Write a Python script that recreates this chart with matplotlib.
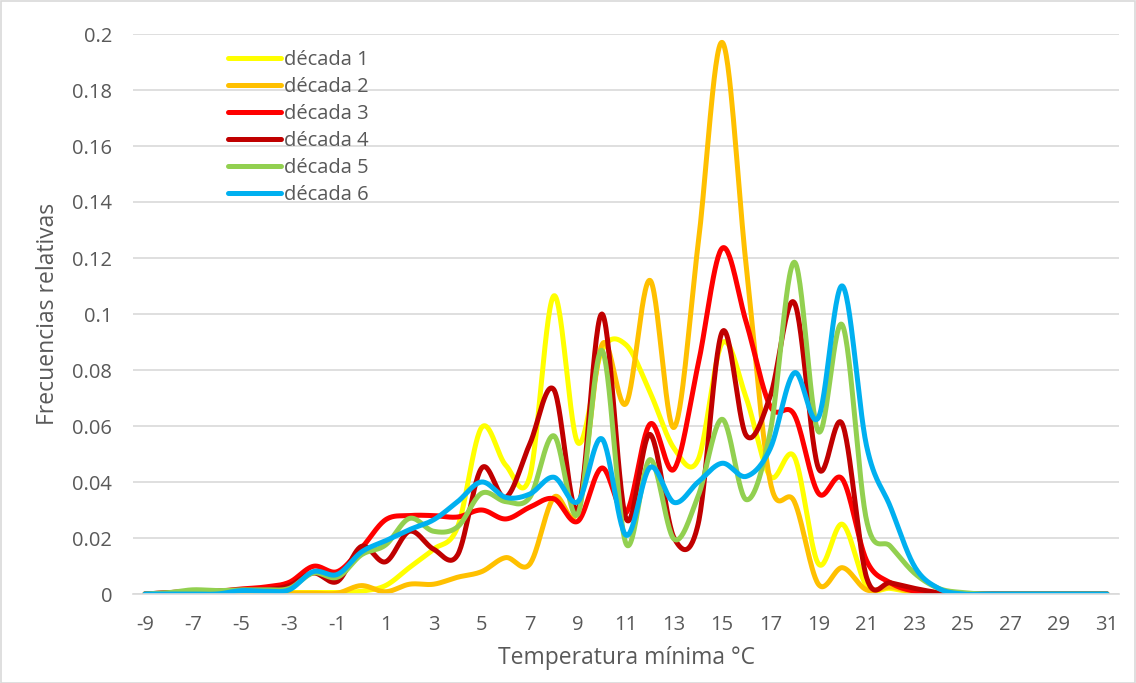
import numpy as np
import matplotlib
matplotlib.use("Agg")
import matplotlib.pyplot as plt
from matplotlib.patches import Rectangle

# ---- data -------------------------------------------------------------
temps = list(range(-9, 32))

decada1 = [0, 0, 0.0005, 0.0005, 0.0005, 0.0005, 0.0005, 0.0005, 0.0005, 0.001,
           0.003, 0.0095, 0.016, 0.024, 0.0595, 0.046, 0.042, 0.1065, 0.054, 0.087,
           0.089, 0.072, 0.052, 0.048, 0.0896, 0.070, 0.042, 0.049, 0.0108, 0.0249,
           0.003, 0.002, 0.0005, 0, 0, 0, 0, 0, 0, 0, 0]
decada2 = [0, 0, 0, 0, 0, 0, 0.0003, 0.0003, 0.0003, 0.003,
           0.0008, 0.0035, 0.0035, 0.006, 0.008, 0.013, 0.0107, 0.0345, 0.030, 0.089,
           0.068, 0.112, 0.0595, 0.125, 0.197, 0.117, 0.040, 0.033, 0.0035, 0.0094,
           0.0015, 0.0025, 0.0005, 0, 0, 0, 0, 0, 0, 0, 0]
decada3 = [0, 0.0005, 0.001, 0.001, 0.0018, 0.0025, 0.0042, 0.0099, 0.008, 0.0164,
           0.0265, 0.028, 0.028, 0.0275, 0.030, 0.0268, 0.031, 0.034, 0.026, 0.045,
           0.029, 0.0607, 0.0446, 0.082, 0.1235, 0.097, 0.067, 0.064, 0.036, 0.041,
           0.012, 0.004, 0.001, 0.0003, 0, 0, 0, 0, 0, 0, 0]
decada4 = [0, 0.0005, 0.001, 0.001, 0.0015, 0.0015, 0.003, 0.0075, 0.0045, 0.017,
           0.0115, 0.0224, 0.016, 0.014, 0.045, 0.0345, 0.0536, 0.073, 0.030, 0.100,
           0.027, 0.057, 0.020, 0.025, 0.0936, 0.0566, 0.0707, 0.104, 0.045, 0.0606,
           0.006, 0.004, 0.002, 0.0005, 0, 0, 0, 0, 0, 0, 0]
decada5 = [0, 0.0005, 0.0015, 0.0012, 0.0015, 0.0015, 0.002, 0.0075, 0.006, 0.014,
           0.0175, 0.027, 0.0224, 0.024, 0.036, 0.033, 0.0345, 0.0565, 0.0286, 0.087,
           0.018, 0.048, 0.0196, 0.035, 0.0624, 0.0337, 0.058, 0.1185, 0.058, 0.096,
           0.0264, 0.017, 0.0074, 0.002, 0.0005, 0, 0, 0, 0, 0, 0]
decada6 = [0, 0, 0, 0, 0.0012, 0.001, 0.0015, 0.008, 0.007, 0.015,
           0.019, 0.023, 0.0265, 0.033, 0.040, 0.0345, 0.0357, 0.0417, 0.033, 0.0554,
           0.021, 0.0452, 0.0327, 0.040, 0.0467, 0.042, 0.052, 0.079, 0.063, 0.110,
           0.053, 0.031, 0.0098, 0.002, 0, 0, 0, 0, 0, 0, 0]

series_names = ["década 1", "década 2", "década 3", "década 4", "década 5", "década 6"]
series_values = [decada1, decada2, decada3, decada4, decada5, decada6]
colors = ["#FFFF00", "#FFC000", "#FF0000", "#C00000", "#92D050", "#00B0F0"]

x_ticks = list(range(-9, 32, 2))
y_ticks = [0, 0.02, 0.04, 0.06, 0.08, 0.1, 0.12, 0.14, 0.16, 0.18, 0.2]
y_tick_labels = ["0", "0.02", "0.04", "0.06", "0.08", "0.1", "0.12", "0.14",
                 "0.16", "0.18", "0.2"]


def smooth(xs, ys, n=30):
    """Excel-like smoothed line (cubic Bezier, 1/6 neighbour tangents)."""
    xs = np.asarray(xs, float)
    ys = np.asarray(ys, float)
    P = np.column_stack([xs, ys])
    out = []
    t = np.linspace(0, 1, n, endpoint=False)[:, None]
    for i in range(len(P) - 1):
        p0 = P[i - 1] if i > 0 else P[i]
        p1, p2 = P[i], P[i + 1]
        p3 = P[i + 2] if i + 2 < len(P) else P[i + 1]
        c1 = p1 + (p2 - p0) / 6.0
        c2 = p2 - (p3 - p1) / 6.0
        seg = ((1 - t) ** 3) * p1 + 3 * ((1 - t) ** 2) * t * c1 + 3 * (1 - t) * t ** 2 * c2 + t ** 3 * p2
        out.append(seg)
    out.append(P[-1][None, :])
    out = np.vstack(out)
    return out[:, 0], out[:, 1]


plt.rcParams["font.family"] = ["Open Sans", "DejaVu Sans"]
text_color = "#595959"

fig = plt.figure(figsize=(11.36, 6.83), dpi=100)
W, H = 1136, 683
ax = fig.add_axes([133 / W, 1 - 594 / H, (1119 - 133) / W, (594 - 34) / H])

for name, vals, col in zip(series_names, series_values, colors):
    sx, sy = smooth(temps, vals)
    ax.plot(sx, sy, color=col, lw=3.6, label=name, solid_capstyle="round",
            solid_joinstyle="round")

ax.set_xlim(-9.5, 31.5)
ax.set_ylim(0, 0.2)
ax.set_xticks(x_ticks)
ax.set_xticklabels([str(v) for v in x_ticks])
ax.set_yticks(y_ticks)
ax.set_yticklabels(y_tick_labels)
ax.tick_params(axis="both", length=0, labelsize=14.5, colors=text_color)
ax.tick_params(axis="x", pad=15)
ax.tick_params(axis="y", pad=15)
ax.grid(axis="y", color="#D9D9D9", lw=1.2)
ax.set_axisbelow(True)
for s in ["top", "right", "left"]:
    ax.spines[s].set_visible(False)
ax.spines["bottom"].set_color("#D9D9D9")
ax.spines["bottom"].set_linewidth(1.2)

ax.set_xlabel("Temperatura mínima °C", fontsize=16.5, color=text_color, labelpad=8)
ax.set_ylabel("Frecuencias relativas", fontsize=16.5, color=text_color, labelpad=9)

leg = ax.legend(loc="upper left", bbox_to_anchor=(0.08, 1.0), frameon=False,
                fontsize=14.5, handlelength=2.65, handletextpad=0.15,
                labelspacing=0.35, borderaxespad=0.4)
for t in leg.get_texts():
    t.set_color(text_color)

fig.patches.append(Rectangle((0.5 / W, 0.5 / H), 1 - 1.5 / W, 1 - 1.5 / H,
                             transform=fig.transFigure, fill=False,
                             edgecolor="#D9D9D9", lw=1.2))

fig.savefig("out.png", dpi=100)
